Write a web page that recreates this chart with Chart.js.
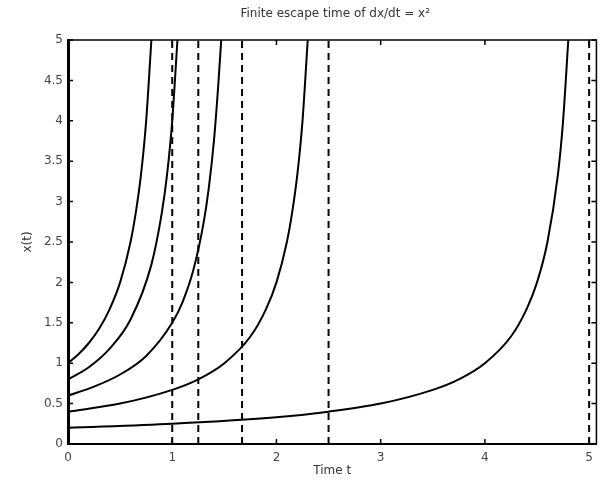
<!DOCTYPE html>
<html>
<head>
<meta charset="utf-8">
<script src="https://cdn.jsdelivr.net/npm/chart.js@4.4.1/dist/chart.umd.min.js"></script>
<style>
  html, body { margin: 0; padding: 0; background: #fff; }
  #wrap { width: 600px; height: 482px; }
</style>
</head>
<body>
<div id="wrap"><canvas id="myChart"></canvas></div>
<script>
const chartTitle = 'Finite escape time of dx/dt = x²';
const xLabel = 'Time t';
const yLabel = 'x(t)';

// solution curves (t, x)
const t1 = [0, 0.1, 0.2, 0.3, 0.4, 0.5, 0.6, 0.65, 0.7, 0.75, 0.8];
const x1 = [1, 1.11, 1.25, 1.43, 1.67, 2, 2.5, 2.86, 3.33, 4, 5];
const t2 = [0, 0.2, 0.4, 0.6, 0.8, 0.9, 0.95, 1.0, 1.05];
const x2 = [0.8, 0.95, 1.18, 1.54, 2.22, 2.86, 3.33, 4, 5];
const t3 = [0, 0.25, 0.5, 0.75, 1.0, 1.1, 1.2, 1.3, 1.35, 1.4, 1.44, 1.47];
const x3 = [0.6, 0.71, 0.86, 1.09, 1.5, 1.76, 2.14, 2.73, 3.16, 3.75, 4.41, 5];
const t4 = [0, 0.5, 1.0, 1.25, 1.5, 1.75, 1.9, 2.0, 2.1, 2.15, 2.2, 2.25, 2.3];
const x4 = [0.4, 0.5, 0.67, 0.8, 1.0, 1.33, 1.67, 2.0, 2.5, 2.86, 3.33, 4, 5];
const t5 = [0, 1, 2, 2.5, 3, 3.5, 3.75, 4, 4.25, 4.4, 4.5, 4.6, 4.7, 4.75, 4.8];
const x5 = [0.2, 0.25, 0.33, 0.4, 0.5, 0.67, 0.8, 1.0, 1.33, 1.67, 2.0, 2.5, 3.33, 4, 5];

// escape times (dashed lines)
const escapeTimes = [1, 1.25, 1.67, 2.5, 5];
const yRange = [0, 5];

// tick labels
const xTicks = [0, 1, 2, 3, 4, 5];
const yTicks = [0, 0.5, 1, 1.5, 2, 2.5, 3, 3.5, 4, 4.5, 5];

const curves = [[t1, x1], [t2, x2], [t3, x3], [t4, x4], [t5, x5]];

const datasets = [];
curves.forEach(c => {
  datasets.push({
    data: c[0].map((t, i) => ({ x: t, y: c[1][i] })),
    borderColor: '#000',
    borderWidth: 2,
    pointRadius: 0,
    cubicInterpolationMode: 'monotone',
    fill: false
  });
});
escapeTimes.forEach(te => {
  datasets.push({
    data: yRange.map(v => ({ x: te, y: v })),
    borderColor: '#000',
    borderWidth: 2,
    borderDash: [7, 5],
    pointRadius: 0,
    fill: false
  });
});

const frame = {
  id: 'frame',
  afterDraw(chart) {
    const ctx = chart.ctx;
    const a = chart.chartArea;
    const xs = chart.scales.x, ys = chart.scales.y;
    ctx.save();
    ctx.strokeStyle = '#000';
    ctx.lineWidth = 1.5;
    ctx.beginPath();
    ctx.moveTo(a.left, a.top); ctx.lineTo(a.right, a.top); ctx.lineTo(a.right, a.bottom);
    ctx.stroke();
    // inward ticks
    ctx.beginPath();
    xs.ticks.forEach(t => {
      const px = xs.getPixelForValue(t.value);
      ctx.moveTo(px, a.bottom); ctx.lineTo(px, a.bottom - 5);
      ctx.moveTo(px, a.top); ctx.lineTo(px, a.top + 5);
    });
    ys.ticks.forEach(t => {
      const py = ys.getPixelForValue(t.value);
      ctx.moveTo(a.left, py); ctx.lineTo(a.left + 5, py);
      ctx.moveTo(a.right, py); ctx.lineTo(a.right - 5, py);
    });
    ctx.stroke();
    // title
    ctx.fillStyle = '#333';
    ctx.font = '12px "DejaVu Sans", sans-serif';
    ctx.textAlign = 'center';
    ctx.textBaseline = 'middle';
    ctx.fillText(chartTitle, (a.left + a.right) / 2 + 3, 14);
    ctx.restore();
  }
};

const tickFont = { family: '"DejaVu Sans", sans-serif', size: 12 };

new Chart(document.getElementById('myChart'), {
  type: 'line',
  data: { datasets },
  options: {
    responsive: true,
    maintainAspectRatio: false,
    animation: false,
    layout: { padding: { top: 40, right: 3, left: 0, bottom: 0 } },
    plugins: { legend: { display: false }, tooltip: { enabled: false } },
    scales: {
      x: {
        type: 'linear',
        min: 0,
        max: 5.07,
        grid: { display: false, drawTicks: false },
        border: { display: true, color: '#000', width: 2 },
        ticks: { color: '#444', font: tickFont, padding: 7, maxRotation: 0, callback: v => String(v) },
        afterBuildTicks: s => { s.ticks = xTicks.map(v => ({ value: v })); },
        afterFit: s => { s.height = 38; },
        title: { display: true, text: xLabel, color: '#333', font: tickFont, padding: { top: 0, bottom: 4 } }
      },
      y: {
        type: 'linear',
        min: 0,
        max: 5,
        grid: { display: false, drawTicks: false },
        border: { display: true, color: '#000', width: 3 },
        ticks: { color: '#444', font: tickFont, padding: 5, callback: v => String(v) },
        afterBuildTicks: s => { s.ticks = yTicks.map(v => ({ value: v })); },
        afterFit: s => { s.width = 68; },
        title: { display: true, text: yLabel, color: '#333', font: tickFont, padding: { top: 21, bottom: 0 } }
      }
    }
  },
  plugins: [frame]
});
</script>
</body>
</html>
